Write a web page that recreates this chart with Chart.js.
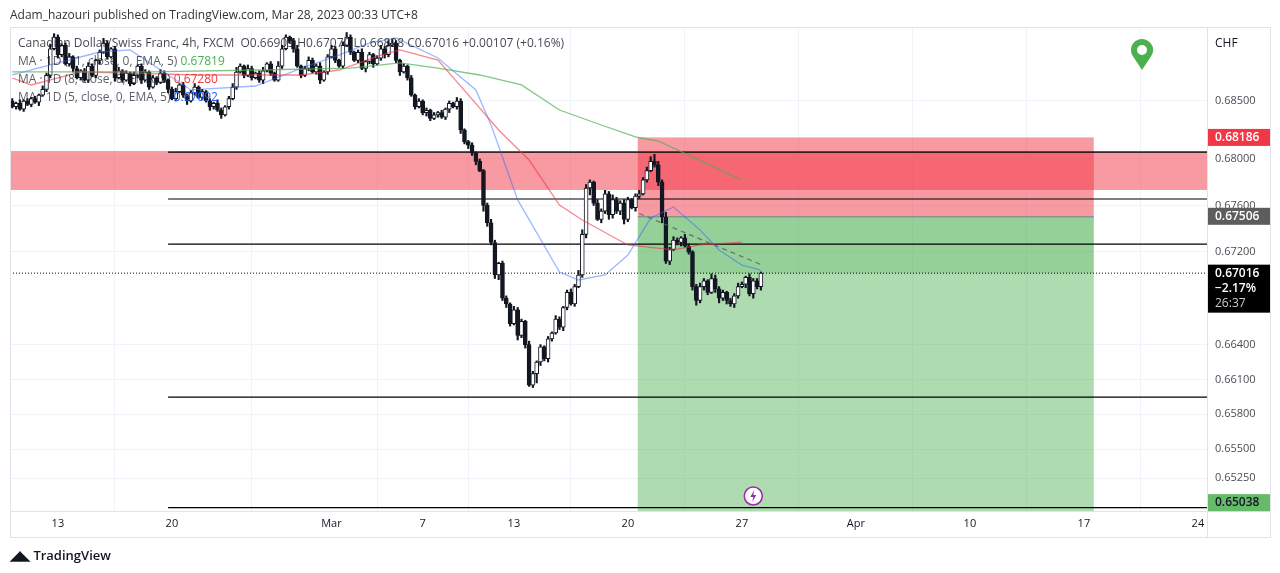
<!DOCTYPE html>
<html><head><meta charset="utf-8">
<script src="https://cdn.jsdelivr.net/npm/chart.js@4.4.0/dist/chart.umd.min.js"></script>
<style>
html,body{margin:0;padding:0;background:#fff;width:1280px;height:573px;overflow:hidden;font-family:"Open Sans","Noto Sans",sans-serif}
#wrap{position:absolute;left:0;top:0;width:1280px;height:573px}
.t{position:absolute;white-space:nowrap;color:#131722}
</style></head><body>
<div id="wrap"><canvas id="c" width="1280" height="573"></canvas></div>
<div class="t" style="left:10px;top:6px;font-size:12px;color:#333">Adam_hazouri published on TradingView.com, Mar 28, 2023 00:33 UTC+8</div>
<div class="t" style="left:18px;top:34px;font-size:12px;color:rgba(19,23,34,0.8)">Canadian Dollar/Swiss Franc, 4h, FXCM&nbsp; O0.66909 H0.67070 L0.66828 C0.67016 +0.00107 (+0.16%)</div>
<div class="t" style="left:18px;top:52px;font-size:12px;color:rgba(19,23,34,0.7)">MA · 1D (21, close, 0, EMA, 5) <span style="color:#4caf50">0.67819</span></div>
<div class="t" style="left:18px;top:70px;font-size:12px;color:rgba(19,23,34,0.7)">MA · 1D (8, close, 0, EMA, 5) <span style="color:#f23645">0.67280</span></div>
<div class="t" style="left:18px;top:88px;font-size:12px;color:rgba(19,23,34,0.7)">MA · 1D (5, close, 0, EMA, 5) <span style="color:#2962ff">0.67092</span></div>
<div class="t" style="left:1215px;top:34px;font-size:12px">CHF</div>
<div class="t" style="left:10px;top:546px;font-size:13px;font-weight:600;color:#131722">◢◣ TradingView</div>
<script>
const firstBar = -12;
const firstOpen = 0.6850;
const closes = [
0.6845,0.6848,0.6843,0.6850,0.6847,0.6852,0.6849,0.6855,0.6860,0.6872,
0.6895,0.6905,0.6890,0.6898,0.6882,0.6888,0.6878,0.6870,0.6876,0.6868,
0.6880,0.6872,0.6885,0.6892,0.6900,0.6888,0.6895,0.6870,0.6876,0.6868,
0.6874,0.6865,0.6872,0.6880,0.6868,0.6875,0.6862,0.6870,0.6866,0.6874,
0.6868,0.6860,0.6852,0.6858,0.6864,0.6855,0.6850,0.6857,0.6862,0.6853,
0.6858,0.6850,0.6845,0.6848,0.6842,0.6838,0.6845,0.6852,0.6862,0.6875,
0.6880,0.6872,0.6878,0.6870,0.6874,0.6868,0.6876,0.6882,0.6874,0.6868,
0.6880,0.6895,0.6905,0.6902,0.6895,0.6880,0.6872,0.6878,0.6885,0.6875,
0.6880,0.6868,0.6875,0.6888,0.6895,0.6885,0.6880,0.6898,0.6905,0.6892,
0.6885,0.6892,0.6878,0.6884,0.6890,0.6882,0.6887,0.6895,0.6890,0.6898,
0.6900,0.6885,0.6875,0.6880,0.6870,0.6855,0.6845,0.6850,0.6840,0.6842,
0.6835,0.6838,0.6840,0.6836,0.6843,0.6848,0.6845,0.6850,0.6825,0.6815,
0.6812,0.6805,0.6798,0.6790,0.6760,0.6745,0.6728,0.6700,0.6710,0.6680,
0.6675,0.6658,0.6670,0.6648,0.6660,0.6640,0.6605,0.6615,0.6625,0.6638,
0.6628,0.6645,0.6650,0.6662,0.6655,0.6672,0.6685,0.6675,0.6690,0.6700,
0.6735,0.6775,0.6780,0.6762,0.6748,0.6755,0.6770,0.6752,0.6765,0.6755,
0.6762,0.6748,0.6765,0.6758,0.6768,0.6770,0.6782,0.6790,0.6798,0.6795,
0.6780,0.6750,0.6712,0.6722,0.6730,0.6728,0.6732,0.6725,0.6720,0.6690,
0.6678,0.6690,0.6695,0.6685,0.6697,0.6688,0.6680,0.6685,0.6678,0.6675,
0.6682,0.6690,0.6692,0.6698,0.6684,0.6695,0.6690,0.67016];
// wick extensions in units of 0.0001 beyond the body
const upperWick = [
2,1,3,1,2,1,2,1,3,2, 4,3,2,1,2,3,1,2,1,2, 3,2,1,2,4,2,1,2,3,1,
2,1,3,1,2,2,1,2,1,3, 2,1,2,3,1,2,1,2,3,1, 2,1,2,1,3,2,1,2,3,4,
2,1,3,2,1,2,3,1,2,1, 4,3,2,1,2,3,1,2,3,2, 2,3,1,2,3,2,1,3,4,2,
1,2,3,1,2,1,2,3,2,4, 3,2,1,2,1,2,1,2,1,2, 1,2,1,2,1,2,1,3,2,1,
1,2,1,2,1,2,3,2,1,2, 2,1,3,2,2,1,3,2,1,2, 1,2,1,3,2,1,2,3,2,4,
4,3,2,1,3,2,3,2,4,2, 2,3,2,1,2,3,2,3,4,6, 3,2,4,2,3,2,1,3,2,1,
2,3,2,1,4,3,2,2,1,2, 2,3,2,1,3,2,2,1];
const lowerWick = [
1,2,1,2,1,2,1,3,1,2, 2,1,3,2,1,2,3,1,2,1, 2,1,2,3,1,2,1,3,1,2,
1,2,1,2,3,1,2,1,2,1, 2,3,1,2,1,2,3,1,2,1, 2,1,3,2,1,3,1,2,1,2,
1,2,1,2,1,2,3,1,2,1, 1,2,1,2,3,1,2,1,2,1, 2,3,1,2,1,2,1,2,1,2,
1,2,1,3,2,3,1,2,3,2, 1,2,3,1,2,1,2,1,2,3, 2,1,2,1,2,3,1,2,3,2,
3,2,3,1,5,3,2,3,4,2, 3,2,1,4,2,3,1,2,8,3, 2,3,2,1,2,3,2,1,2,1,
2,3,6,2,1,3,2,4,3,2, 3,4,2,1,3,2,1,2,1,2, 3,5,2,3,1,2,3,1,2,3,
4,2,3,2,1,3,4,2,3,2, 3,2,1,3,2,4,2,3];
// daily EMA lines: [bar index, price]
const ma5 = [[-12,0.68724],[11,0.68922],[19,0.68940],[35,0.68595],[52,0.68629],[65,0.68793],[74,0.68896],[82,0.69000],[89,0.69043],[100,0.68871],[110,0.68595],[114,0.68293],[121,0.67647],[132,0.67026],[137,0.66957],[144,0.67000],[150,0.67172],[156,0.67491],[162,0.67586],[169,0.67388],[174,0.67216],[180,0.67086],[185,0.67043]];
const ma8 = [[-12,0.68698],[-7,0.68638],[6,0.68750],[37,0.68724],[64,0.68724],[74,0.68767],[85,0.68896],[90,0.68940],[100,0.68853],[108,0.68552],[116,0.68250],[124,0.67991],[132,0.67603],[138,0.67474],[150,0.67259],[162,0.67216],[169,0.67259],[180,0.67284]];
const ma21 = [[-12,0.68750],[24,0.68750],[53,0.68767],[77,0.68784],[90,0.68828],[100,0.68784],[111,0.68724],[122,0.68638],[132,0.68422],[143,0.68293],[152,0.68190],[158,0.68155],[166,0.68034],[180,0.67819]];
const dashedProj = [[153,0.67530],[185,0.67090]];
const hLines = [0.68060,0.67655,0.67267,0.65948,0.64995];
const hLineStart = 29;
const zoneTop = 0.68069, zoneBottom = 0.67733;
const posStart = 152.6, posEnd = 272.6;
const stopPrice = 0.68186, entryPrice = 0.67506, targetPrice = 0.65038, lastPrice = 0.67016;
const yTicks = [0.685,0.680,0.676,0.672,0.664,0.661,0.658,0.655,0.6525];
const xTickPos = [0,30,72,96,120,150,180,210,240,270,300];
const xTickLabels = ['13','20','Mar','7','13','20','27','Apr','10','17','24'];

const bodies=[], wicks=[], bodyColors=[];
let prev = firstOpen;
closes.forEach((c,i)=>{
  const o = prev, x = firstBar+i;
  const hi = Math.max(o,c)+upperWick[i]*0.0001, lo = Math.min(o,c)-lowerWick[i]*0.0001;
  bodies.push({x, y:[o,c]});
  wicks.push({x, y:[lo,hi]});
  bodyColors.push(c>=o ? '#ffffff' : '#131722');
  prev = c;
});
const pts = a => a.map(p=>({x:p[0],y:p[1]}));

const overlay = {
  id:'overlay',
  beforeDatasetsDraw(ch){
    const {ctx, chartArea:a, scales:{x,y}} = ch;
    ctx.save();
    ctx.beginPath(); ctx.rect(a.left,a.top,a.right-a.left,a.bottom-a.top); ctx.clip();
    const X=v=>x.getPixelForValue(v), Y=v=>y.getPixelForValue(v);
    ctx.fillStyle='rgba(242,54,69,0.5)';
    ctx.fillRect(a.left,Y(zoneTop),a.right-a.left,Y(zoneBottom)-Y(zoneTop));
    ctx.fillStyle='rgba(242,54,69,0.5)';
    ctx.fillRect(X(posStart),Y(stopPrice),X(posEnd)-X(posStart),Y(entryPrice)-Y(stopPrice));
    ctx.fillStyle='rgba(76,175,80,0.45)';
    ctx.fillRect(X(posStart),Y(entryPrice),X(posEnd)-X(posStart),a.bottom-Y(entryPrice));
    ctx.fillStyle='rgba(76,175,80,0.25)';
    ctx.fillRect(X(posStart),Y(entryPrice),X(posEnd)-X(posStart),Y(lastPrice)-Y(entryPrice));
    ctx.strokeStyle='#787b86'; ctx.lineWidth=1;
    ctx.beginPath(); ctx.moveTo(X(posStart),Y(entryPrice)+0.5); ctx.lineTo(X(posEnd),Y(entryPrice)+0.5); ctx.stroke();
    ctx.strokeStyle='#000'; ctx.lineWidth=1.2;
    hLines.forEach(v=>{ctx.beginPath();ctx.moveTo(X(hLineStart),Y(v));ctx.lineTo(a.right,Y(v));ctx.stroke();});
    ctx.setLineDash([1,2]); ctx.lineWidth=1;
    ctx.beginPath();ctx.moveTo(a.left,Y(lastPrice));ctx.lineTo(a.right,Y(lastPrice));ctx.stroke();
    ctx.setLineDash([]);
    ctx.restore();
  },
  afterDraw(ch){
    const {ctx, chartArea:a, scales:{x,y}} = ch;
    const Y=v=>y.getPixelForValue(v), X=v=>x.getPixelForValue(v);
    ctx.save();
    ctx.strokeStyle='#e0e3eb'; ctx.lineWidth=1;
    ctx.strokeRect(a.left+0.5,a.top-0.5,1270-a.left,a.bottom-a.top+27);
    ctx.beginPath();ctx.moveTo(a.right+0.5,a.top);ctx.lineTo(a.right+0.5,a.bottom+27);ctx.moveTo(a.left,a.bottom+0.5);ctx.lineTo(1270,a.bottom+0.5);ctx.stroke();
    const badge=(v,bg,fg,lines)=>{
      const yc=Y(v), h=lines.length>1?48:17;
      ctx.fillStyle=bg; ctx.fillRect(a.right+1,yc-8.5,62,h);
      ctx.textBaseline='middle';
      lines.forEach((t,i)=>{ctx.fillStyle=i==2?'#cccccc':fg; ctx.font=(i==2?'':'600 ')+'12px "Open Sans"'; ctx.fillText(t,a.right+8,yc+i*15);});
    };
    badge(stopPrice,'#f23645','#fff',['0.68186']);
    badge(entryPrice,'#5d5d5d','#fff',['0.67506']);
    badge(lastPrice,'#000','#fff',['0.67016','\u22122.17%','26:37']);
    badge(targetPrice,'#66bb6a','#131722',['0.65038']);
    ctx.fillStyle='#4caf50';
    ctx.beginPath();ctx.arc(1142,50,11,Math.PI*0.8,Math.PI*0.2);ctx.lineTo(1142,70);ctx.closePath();ctx.fill();
    ctx.fillStyle='#fff';ctx.beginPath();ctx.arc(1142,50,5,0,Math.PI*2);ctx.fill();
    const lx=X(183), ly=496;
    ctx.fillStyle='#fff';ctx.strokeStyle='#9c27b0';ctx.lineWidth=1.5;
    ctx.beginPath();ctx.arc(lx,ly,9,0,Math.PI*2);ctx.fill();ctx.stroke();
    ctx.fillStyle='#9c27b0';ctx.beginPath();
    ctx.moveTo(lx+1,ly-6);ctx.lineTo(lx-3,ly+1);ctx.lineTo(lx,ly+1);ctx.lineTo(lx-1,ly+6);ctx.lineTo(lx+3,ly-1);ctx.lineTo(lx,ly-1);ctx.closePath();ctx.fill();
    ctx.restore();
  }
};

new Chart(document.getElementById('c'),{
  data:{datasets:[
    {type:'line',data:pts(ma21),borderColor:'rgba(76,175,80,0.7)',borderWidth:1.3,pointRadius:0,tension:0,order:0},
    {type:'line',data:pts(ma8),borderColor:'rgba(242,54,69,0.6)',borderWidth:1.3,pointRadius:0,tension:0,order:0},
    {type:'line',data:pts(ma5),borderColor:'rgba(41,98,255,0.45)',borderWidth:1.3,pointRadius:0,tension:0,order:0},
    {type:'line',data:pts(dashedProj),borderColor:'rgba(90,90,90,0.8)',borderDash:[5,4],borderWidth:1.2,pointRadius:0,order:0},
    {type:'bar',data:bodies,backgroundColor:bodyColors,borderColor:'#131722',borderWidth:1,borderSkipped:false,barThickness:4,minBarLength:1,grouped:false,order:1},
    {type:'bar',data:wicks,backgroundColor:'#131722',barThickness:1.5,grouped:false,order:2}
  ]},
  options:{
    responsive:false,animation:false,
    layout:{padding:{left:10,top:28,right:10,bottom:36}},
    plugins:{legend:{display:false},tooltip:{enabled:false}},
    scales:{
      x:{type:'linear',min:-12.6,max:302.4,offset:false,
        afterBuildTicks:s=>{s.ticks=xTickPos.map(v=>({value:v}));},
        afterFit:s=>{s.height=26;},
        ticks:{autoSkip:false,maxRotation:0,color:'#131722',font:{size:11,family:'Open Sans'},padding:6,
          callback:(v)=>xTickLabels[xTickPos.indexOf(v)]},
        grid:{color:'#f0f3fa',drawTicks:false},border:{display:false}},
      y:{position:'right',min:0.64966,max:0.69129,
        afterBuildTicks:s=>{s.ticks=yTicks.map(v=>({value:v}));},
        afterFit:s=>{s.width=63;},
        ticks:{color:'#4a4d57',font:{size:11,family:'Open Sans'},padding:8,callback:v=>v.toFixed(5)},
        grid:{color:'#f0f3fa',drawTicks:false},border:{display:false}}
    }
  },
  plugins:[overlay]
});
</script></body></html>
